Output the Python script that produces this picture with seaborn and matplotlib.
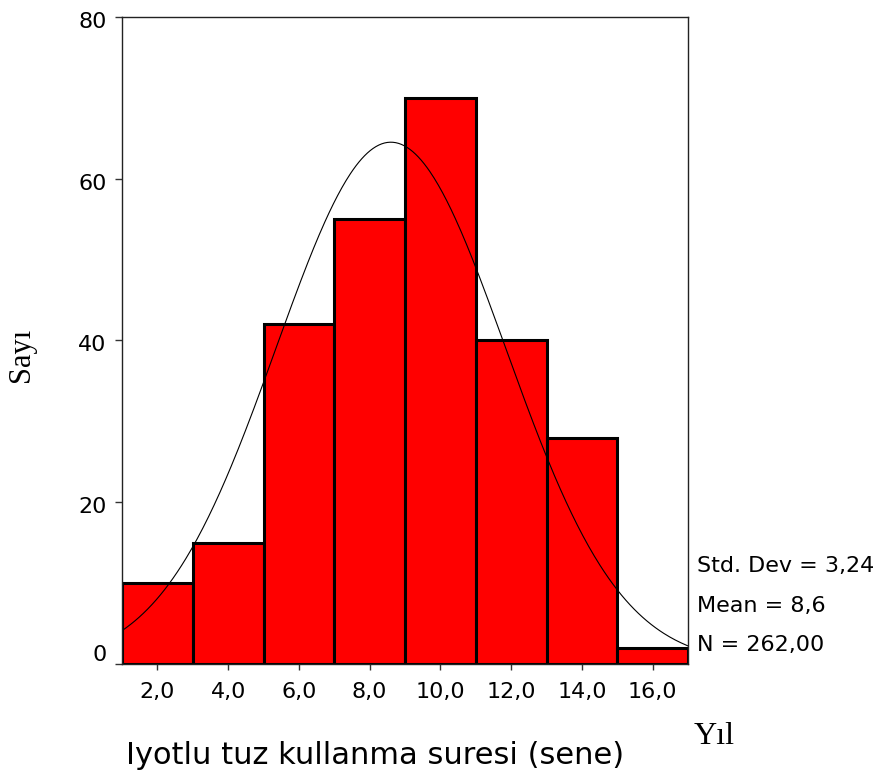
import numpy as np
import pandas as pd
import matplotlib
matplotlib.use("Agg")
import matplotlib.pyplot as plt
import matplotlib.transforms as mtransforms
import seaborn as sns

# Data
bin_centers = [2, 4, 6, 8, 10, 12, 14, 16]
counts = [10, 15, 42, 55, 70, 40, 28, 2]
bin_edges = [1, 3, 5, 7, 9, 11, 13, 15, 17]
tick_values = [2, 4, 6, 8, 10, 12, 14, 16]
tick_labels = ["2,0", "4,0", "6,0", "8,0", "10,0", "12,0", "14,0", "16,0"]
y_ticks = [0, 20, 40, 60, 80]
mean_val = 8.6
std_val = 3.24
n_val = 262
stats_text = ["Std. Dev = 3,24", "Mean = 8,6", "N = 262,00"]

sns.set_theme(style="white")
plt.rcParams['font.family'] = ['DejaVu Sans']
plt.rcParams['text.color'] = 'black'
plt.rcParams['xtick.color'] = 'black'
plt.rcParams['ytick.color'] = 'black'

fig = plt.figure(figsize=(8.8, 7.8), dpi=100)
ax = fig.add_axes([122/880, 1-664/780, (688-122)/880, (664-17)/780])

df = pd.DataFrame({"x": bin_centers, "n": counts})
sns.histplot(data=df, x="x", weights="n", bins=bin_edges, ax=ax,
             color="#ff0000", alpha=1, edgecolor="black", linewidth=2.2)

xs = np.linspace(bin_edges[0], bin_edges[-1], 400)
bw = bin_edges[1] - bin_edges[0]
ys = n_val * bw / (std_val * np.sqrt(2 * np.pi)) * np.exp(-0.5 * ((xs - mean_val) / std_val) ** 2)
sns.lineplot(x=xs, y=ys, ax=ax, color="black", linewidth=0.8)

ax.set_xlim(bin_edges[0], bin_edges[-1])
ax.set_ylim(0, 80)
ax.set_xticks(tick_values)
ax.set_xticklabels(tick_labels, fontsize=16)
ax.set_yticks(y_ticks)
ax.set_yticklabels([str(v) for v in y_ticks], fontsize=16)
ax.tick_params(axis="x", direction="out", length=4, width=1, color="#333333",
               bottom=True, pad=9)
ax.tick_params(axis="y", direction="out", length=5, width=1, color="#333333",
               left=True, pad=6)
ax.set_xlabel("")
ax.set_ylabel("")
for s in ax.spines.values():
    s.set_visible(True)
    s.set_color("#222222")
    s.set_linewidth(1)

# SPSS-style label offsets
for lbl, v in zip(ax.get_yticklabels(), y_ticks):
    dy = 11/100 if v == 0 else -3/100
    lbl.set_transform(lbl.get_transform() + mtransforms.ScaledTranslation(0, dy, fig.dpi_scale_trans))

for i, t in enumerate(stats_text):
    fig.text(697/880, 1 - (566 + i*39.5)/780, t, fontsize=16, ha="left", va="center")

fig.text(22/880, 1-355/780, "Sayı", fontsize=22, family=["Liberation Serif"],
         rotation=90, ha="center", va="center")
fig.text(714/880, 1-737/780, "Yıl", fontsize=23, family=["Liberation Serif"],
         ha="center", va="center")
fig.text(375/880, 1-755/780, "Iyotlu tuz kullanma suresi (sene)", fontsize=22,
         ha="center", va="center")

fig.savefig("out.png", dpi=100)
